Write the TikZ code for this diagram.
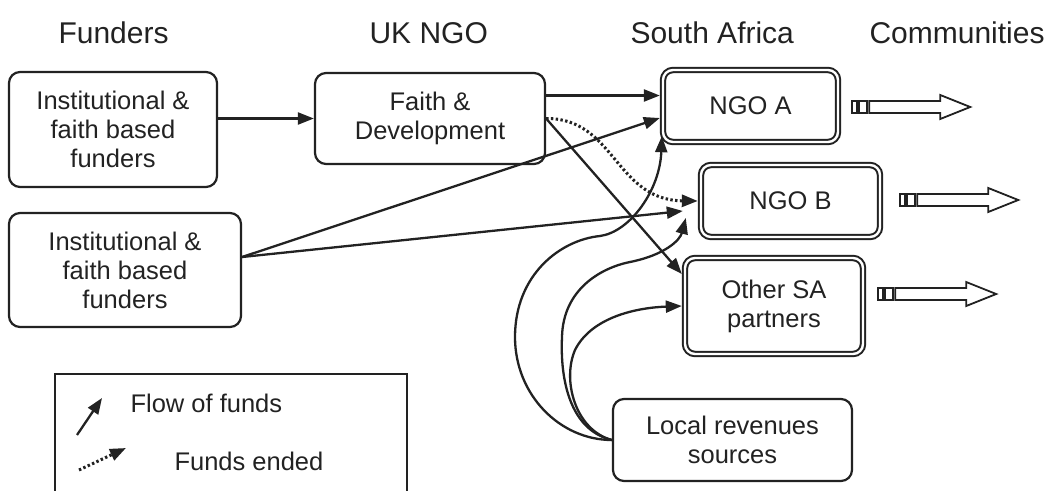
\documentclass[tikz,border=0pt]{standalone}
\usepackage{fontspec}
\setmainfont{Liberation Sans}
\usetikzlibrary{arrows.meta,calc}
\definecolor{ink}{HTML}{222222}

\tikzset{
  outflow/.pic={
    \draw[ink, line width=1.8pt] (0,-6) rectangle (5,6);
    \draw[ink, line width=1.8pt] (7,-6) rectangle (15,6);
    \draw[ink, line width=1.8pt, line join=miter]
      (17,-6) -- (88,-6) -- (88,-12) -- (118,0) -- (88,12) -- (88,6) -- (17,6) -- cycle;
  }
}

\begin{document}
\begin{tikzpicture}[x=1pt,y=-1pt,
  every node/.style={font=\fontsize{25.5}{29}\selectfont, text=ink},
  box/.style={draw=ink, line width=2.2pt, rounded corners=11pt, align=center, inner sep=0pt},
  dbox/.style={draw=ink, line width=2pt, double, double distance=2.4pt,
               rounded corners=10pt, align=center, inner sep=0pt, outer sep=3.2pt},
  heading/.style={font=\fontsize{30}{34}\selectfont, anchor=base west},
  flow/.style={draw=ink, line width=2.3pt, -{Triangle[length=16pt,width=12pt]}},
  ended/.style={draw=ink, line width=3pt, dash pattern=on 2.4pt off 2.4pt,
                -{Triangle[length=16pt,width=12pt]}},
]
\useasboundingbox (0,0) rectangle (1060,490);

% column headings
\node[heading] (hFund) at (55,43) {Funders};
\node[heading] (hUK)   at (366,43) {UK NGO};
\node[heading] (hSA)   at (627,43) {South Africa};
\node[heading] (hCom)  at (866,43) {Communities};

% funders and the UK NGO
\node[box, minimum width=208pt, minimum height=115pt] (F1) at (113,129.5)
  {Institutional \&\\faith based\\funders};
\node[box, minimum width=232pt, minimum height=114pt] (F2) at (125,270)
  {Institutional \&\\faith based\\funders};
\node[box, minimum width=230pt, minimum height=91pt] (UK) at (430,118.5)
  {Faith \&\\Development};

% South African partners
\node[dbox, minimum width=175pt, minimum height=72pt] (NGOA) at (750.5,106) {NGO A};
\node[dbox, minimum width=179pt, minimum height=72pt] (NGOB) at (790.5,201) {NGO B};
\node[dbox, minimum width=178pt, minimum height=96pt] (OSA) at (774,306)
  {Other SA\\partners};
\node[box, minimum width=239pt, minimum height=82pt] (LR) at (732.5,440)
  {Local revenues\\sources};

% anchor points for the connectors
\coordinate (f2out) at ($(F2.east)+(0,-13)$);
\coordinate (ukTop) at ($(UK.east)+(0,-23)$);
\coordinate (aLow)  at ($(NGOA.west)+(0,12)$);
\coordinate (aFoot) at ($(NGOA.south west)+(2,-9)$);
\coordinate (bLow)  at ($(NGOB.west)+(-15,10)$);
\coordinate (bFoot) at ($(NGOB.west)+(-12,17)$);
\coordinate (oTop)  at ($(OSA.west)+(0,-32)$);

% flows of funds
\draw[flow] (F1.east |- UK.west) -- (UK.west);
\draw[flow] (ukTop) -- (ukTop -| NGOA.west);
\draw[ended] (UK.east) .. controls (615,118) and (615,200) .. (NGOB.west);
\draw[flow] (UK.east) -- (oTop);
\draw[flow] (f2out) -- (aLow);
\draw[flow] (f2out) -- (bLow);

% local revenues
\draw[flow] (LR.west) .. controls (560,440) and (515,395) .. (515,337)
                      .. controls (515,275) and (560,240) .. (600,236)
                      .. controls (630,232) and (660,190) .. (aFoot);
\draw[flow] (LR.west) .. controls (570,430) and (560,380) .. (562,337)
                      .. controls (563,290) and (600,268) .. (630,262)
                      .. controls (665,255) and (680,240) .. (bFoot);
\draw[flow] (LR.west) .. controls (575,430) and (562,380) .. (575,350)
                      .. controls (590,320) and (630,308) .. (OSA.west);

% onward flows to communities
\pic at ($(NGOA.east)+(11,1)$) {outflow};
\pic at ($(NGOB.east)+(17,-1)$) {outflow};
\pic at ($(OSA.east)+(12,-12)$) {outflow};

% legend
\draw[ink, line width=2.2pt] (55,495) -- (55,374) -- (407,374) -- (407,495);
\node[anchor=west] (lgFlow)  at (127,403) {Flow of funds};
\node[anchor=west] (lgEnded) at (171,461) {Funds ended};
\coordinate (lgA0) at (77,435);
\coordinate (lgA1) at (102,398);
\coordinate (lgB0) at (79,470);
\coordinate (lgB1) at (126,448);
\draw[flow] (lgA0) -- (lgA1);
\draw[ended] (lgB0) -- (lgB1);
\end{tikzpicture}
\end{document}
